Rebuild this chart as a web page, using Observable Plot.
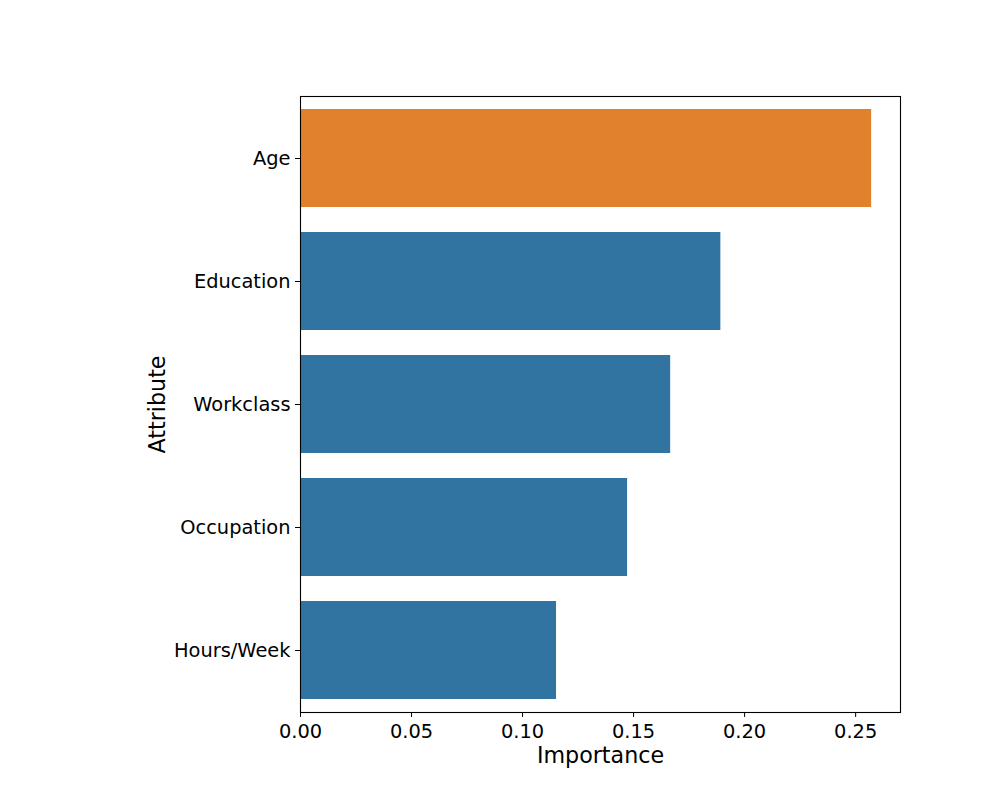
<!DOCTYPE html>
<html>
<head>
<meta charset="utf-8">
<script src="https://cdn.jsdelivr.net/npm/d3@7"></script>
<script src="https://cdn.jsdelivr.net/npm/@observablehq/plot@0.6"></script>
<style>
  html, body { margin: 0; padding: 0; background: #fff; }
  #chart svg { display: block; }
</style>
</head>
<body>
<div id="chart"></div>
<script>
const attributes = ["Age", "Education", "Workclass", "Occupation", "Hours/Week"];
const importance = [0.2572, 0.1893, 0.1667, 0.1473, 0.1153];
const barColors = ["#e1812c", "#3274a1", "#3274a1", "#3274a1", "#3274a1"];
const xTicks = [0, 0.05, 0.10, 0.15, 0.20, 0.25];
const xLabel = "Importance";
const yLabel = "Attribute";

const data = attributes.map((a, i) => ({attribute: a, value: importance[i], color: barColors[i]}));

const font = "'DejaVu Sans', sans-serif";

const chart = Plot.plot({
  width: 1000,
  height: 800,
  marginLeft: 300,
  marginRight: 100,
  marginTop: 96,
  marginBottom: 88,
  style: {fontFamily: font, color: "#000", background: "#fff", overflow: "visible"},
  x: {domain: [0, 0.2702]},
  y: {domain: attributes, paddingInner: 0.2, paddingOuter: 0.1},
  marks: [
    Plot.barX(data, {x: "value", y: "attribute", fill: "color"}),
    Plot.frame({stroke: "#000", strokeWidth: 1.1}),
    Plot.axisX({ticks: xTicks, tickFormat: d3.format(".2f"), tickSize: 5, tickPadding: 7,
      fontSize: 19.4, label: null, stroke: "#000", fill: "#000"}),
    Plot.axisY({tickSize: 5, tickPadding: 5, fontSize: 19.4, label: null, stroke: "#000", fill: "#000"}),
    Plot.text([xLabel], {frameAnchor: "bottom", dy: 43, lineAnchor: "middle", text: d => d, fontSize: 22.2, fill: "#000"}),
    Plot.text([yLabel], {frameAnchor: "left", dx: -143, rotate: -90, textAnchor: "middle", lineAnchor: "middle", text: d => d, fontSize: 22.2, fill: "#000"})
  ]
});

document.getElementById("chart").appendChild(chart);
</script>
</body>
</html>
